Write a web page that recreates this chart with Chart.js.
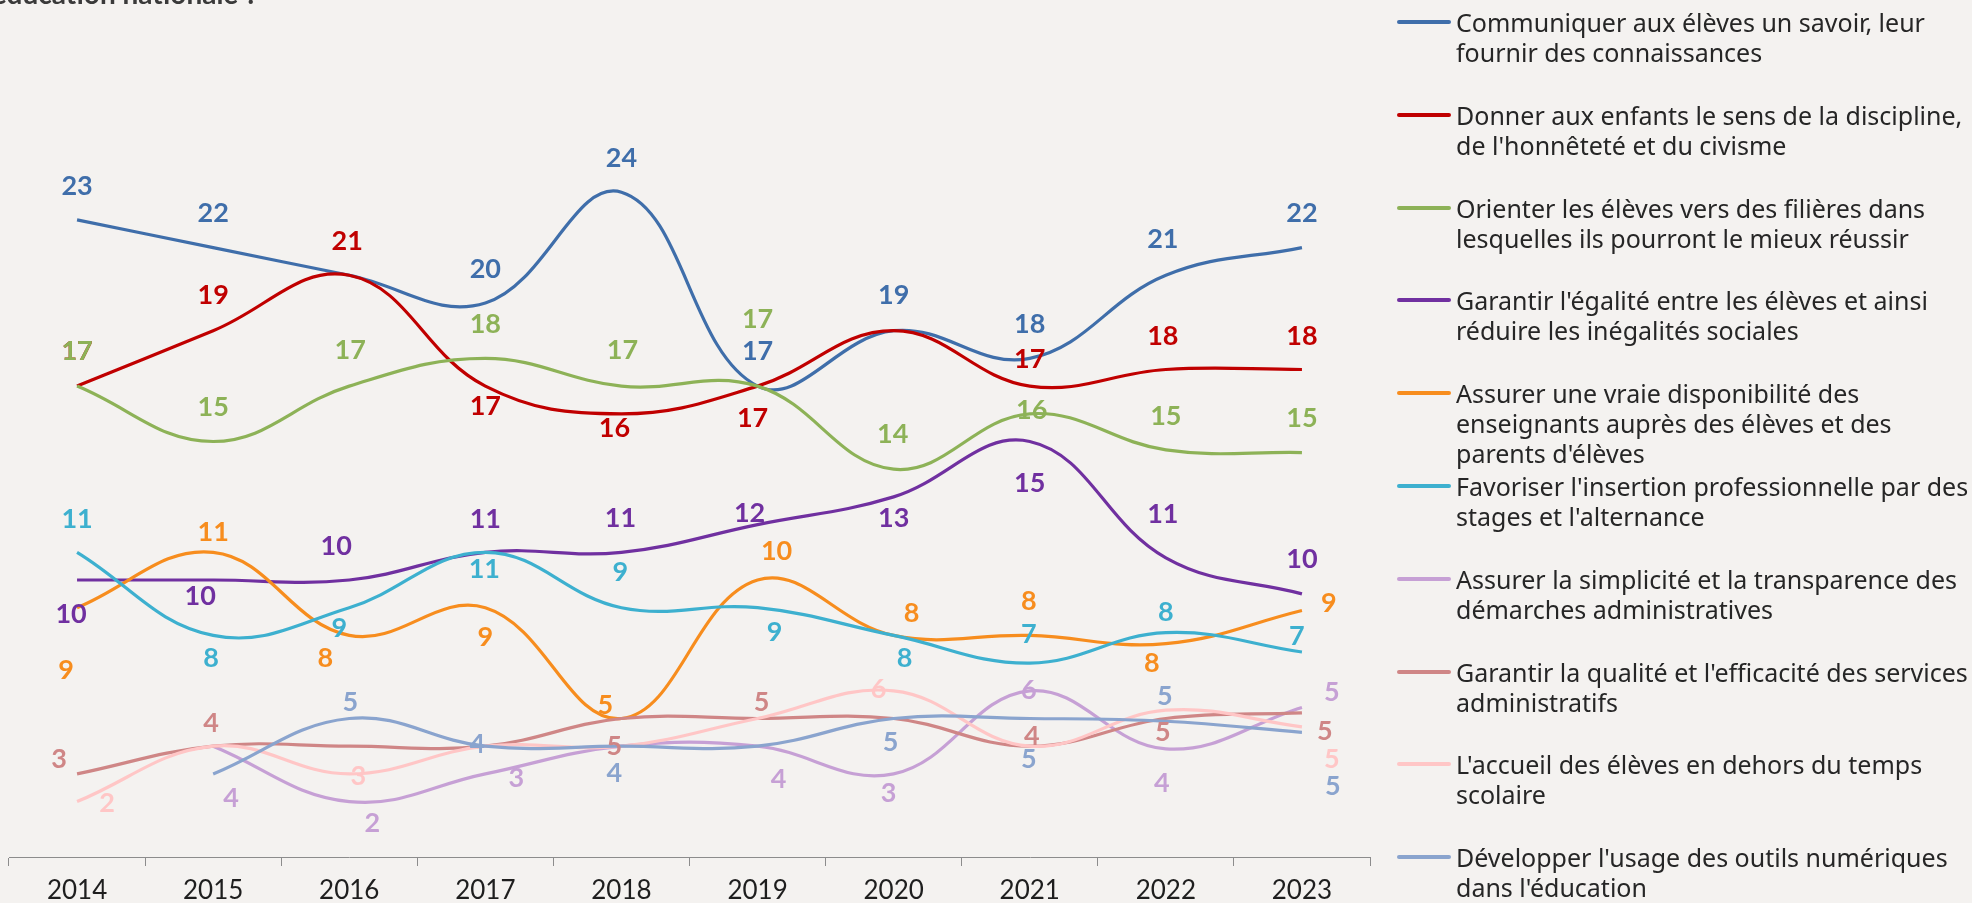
<!DOCTYPE html>
<html lang="fr">
<head>
<meta charset="utf-8">
<title>Priorités de l'éducation nationale</title>
<script src="https://cdn.jsdelivr.net/npm/chart.js@4.4.1/dist/chart.umd.min.js"></script>
<style>
  html, body { margin: 0; padding: 0; }
  body { width: 1972px; height: 903px; overflow: hidden; background: #F4F2F0; position: relative; }
  #chart { position: absolute; left: 0; top: 0; }
  #legend { position: absolute; left: 0; top: 0; width: 1972px; height: 903px; pointer-events: none; }
  .lg-swatch { position: absolute; height: 4px; border-radius: 2px; }
  .lg-text { position: absolute; white-space: pre; color: #262626; font-family: "Noto Sans", "Open Sans", sans-serif; line-height: 30px; }
</style>
</head>
<body>
<canvas id="chart" width="1972" height="903"></canvas>
<div id="legend"></div>
<script>
// Survey years
const years = ['2014', '2015', '2016', '2017', '2018', '2019', '2020', '2021', '2022', '2023'];

// Share of answers per priority (%)
const communiquer   = [23, 22, 21, 20, 24, 17, 19, 18, 21, 22];
const discipline    = [17, 19, 21, 17, 16, 17, 19, 17, 17.6, 17.6];
const orienter      = [17, 15, 17, 18, 17, 17, 14, 16, 14.7, 14.6];
const egalite       = [10, 10, 10, 11, 11, 12, 13, 15, 10.8, 9.5];
const disponibilite = [9, 11, 8, 9, 5, 10, 8, 8, 7.7, 8.9];
const insertion     = [11, 8, 9, 11, 9, 9, 8, 7, 8.1, 7.4];
const simplicite    = [null, 4, 2, 3, 4, 4, 3, 6, 3.9, 5.4];
const qualite       = [3, 4, 4, 4, 5, 5, 5, 4, 5, 5.2];
const accueil       = [2, 4, 3, 4, 4, 5, 6, 4, 5.3, 4.7];
const numerique     = [null, 3, 5, 4, 4, 4, 5, 5, 4.9, 4.5];

// Legend texts
const seriesNames = [
  "Communiquer aux élèves un savoir, leur\nfournir des connaissances",
  "Donner aux enfants le sens de la discipline,\nde l'honnêteté et du civisme",
  "Orienter les élèves vers des filières dans\nlesquelles ils pourront le mieux réussir",
  "Garantir l'égalité entre les élèves et ainsi\nréduire les inégalités sociales",
  "Assurer une vraie disponibilité des\nenseignants auprès des élèves et des\nparents d'élèves",
  "Favoriser l'insertion professionnelle par des\nstages et l'alternance",
  "Assurer la simplicité et la transparence des\ndémarches administratives",
  "Garantir la qualité et l'efficacité des services\nadministratifs",
  "L'accueil des élèves en dehors du temps\nscolaire",
  "Développer l'usage des outils numériques\ndans l'éducation"
];

const seriesValues = [communiquer, discipline, orienter, egalite, disponibilite,
                      insertion, simplicite, qualite, accueil, numerique];

const seriesColors = ['#3F6EAA', '#C00000', '#8DB257', '#7030A0', '#F78D1E',
                      '#3DB0CF', '#C6A0D5', '#CF8686', '#FFC6C6', '#8AA4CE'];

// Value-label placement: [dx, dy] from the point, null = label hidden
const labelOffsets = [
  [[0,-35],[0,-35],null,[0,-35],[0,-35],[0,-36],[0,-36],[0,-35],[-3,-37],[0,-35]],
  [[0,-36],[0,-36],[-2,-35],[0,19],[-7,13],[-5,31],null,[0,-28],[-3,-34],[0,-34]],
  [[0,-36],[0,-35],[1,-37],[0,-35],[1,-37],[0,-68],[-1,-36],[2,-5],[0,-35],[0,-35]],
  [[-6,33],[-13,15],[-13,-35],[0,-34],[-1,-35],[-8,-12],[0,20],[0,41],[-3,-45],[0,-36]],
  [[-11,62],[0,-21],[-24,22],[0,29],[-16,-14],[19,-30],[18,-23],[-1,-35],[-14,19],[27,-8]],
  [[0,-34],[-2,22],[-10,20],[-1,16],[-1,-36],[17,24],[11,22],[-1,-30],[0,-21],[-5,-17]],
  [null,[18,51],[23,21],[31,3],null,[21,32],[-5,18],[-1,-2],[-4,33],[30,-16]],
  [[-18,-16],[-2,-24],null,null,[-7,27],[4,-17],null,[2,-11],[-3,13],[23,17]],
  [[30,1],null,[9,1],null,null,null,[-15,-3],null,null,[30,31]],
  [null,null,[1,-17],[-8,-3],[-7,26],null,[-3,23],[-1,40],[-1,-26],[31,53]]
];

const LABEL_FONT_SIZE = 27;

const valueLabels = {
  id: 'valueLabels',
  afterDatasetsDraw(chart) {
    const ctx = chart.ctx;
    ctx.save();
    ctx.font = `bold ${LABEL_FONT_SIZE}px Lato, "Noto Sans", sans-serif`;
    ctx.textAlign = 'center';
    ctx.textBaseline = 'alphabetic';
    chart.data.datasets.forEach((ds, i) => {
      const meta = chart.getDatasetMeta(i);
      meta.data.forEach((pt, j) => {
        const v = ds.data[j];
        const o = labelOffsets[i][j];
        if (v == null || !o) return;
        ctx.fillStyle = ds.borderColor;
        ctx.fillText(String(Math.round(v)), pt.x + o[0], pt.y + o[1] + LABEL_FONT_SIZE * 0.36);
      });
    });
    ctx.restore();
  }
};

// Heading above the plot, mostly outside the top edge of the page
const heading = {
  id: 'heading',
  afterDraw(chart) {
    const ctx = chart.ctx;
    ctx.save();
    ctx.font = 'bold 28px Lato, "Noto Sans", sans-serif';
    ctx.fillStyle = '#3A3A3A';
    ctx.textAlign = 'right';
    ctx.textBaseline = 'alphabetic';
    ctx.fillText("de l'éducation nationale ?", 258, 4);
    ctx.restore();
  }
};

const datasets = seriesValues.map((vals, i) => ({
  label: seriesNames[i].replace('\n', ' '),
  data: vals,
  borderColor: seriesColors[i],
  backgroundColor: seriesColors[i],
  borderWidth: 3.2,
  pointRadius: 0,
  tension: 0.4,
  fill: false,
  order: seriesValues.length - i
}));

const chart = new Chart(document.getElementById('chart'), {
  type: 'line',
  data: { labels: years, datasets },
  options: {
    responsive: false,
    animation: false,
    events: [],
    layout: { padding: { left: 9, right: 602, top: 26, bottom: 0 } },
    scales: {
      x: {
        offset: true,
        grid: { offset: true, drawOnChartArea: false, drawTicks: true, tickLength: 9, color: '#8C8C8C', lineWidth: 1 },
        border: { display: true, color: '#8C8C8C', width: 1 },
        ticks: { color: '#1E1E1E', font: { family: 'Lato', size: 26 }, padding: 9, maxRotation: 0, autoSkip: false },
        afterFit(scale) { scale.height = 46; }
      },
      y: { display: false, min: 0, max: 30 }
    },
    plugins: { legend: { display: false }, tooltip: { enabled: false }, title: { display: false } }
  },
  plugins: [valueLabels, heading]
});

// Legend beside the plot, built from the chart's datasets
(function buildLegend() {
  const box = document.getElementById('legend');
  const fam = '"Noto Sans", "Open Sans", sans-serif';
  const m = document.createElement('canvas').getContext('2d');
  m.font = `100px ${fam}`;
  const ref = seriesNames[0].split('\n')[0];
  const fontSize = 100 * 469 / m.measureText(ref).width;
  chart.data.datasets.forEach((ds, i) => {
    const cy = 22 + i * 92.8;
    const sw = document.createElement('div');
    sw.className = 'lg-swatch';
    sw.style.left = '1397px';
    sw.style.width = '54px';
    sw.style.top = (cy - 2) + 'px';
    sw.style.background = ds.borderColor;
    box.appendChild(sw);
    const tx = document.createElement('div');
    tx.className = 'lg-text';
    tx.style.left = '1456px';
    tx.style.top = (cy - 15) + 'px';
    tx.style.fontSize = fontSize.toFixed(2) + 'px';
    tx.textContent = seriesNames[i];
    box.appendChild(tx);
  });
})();
</script>
</body>
</html>
